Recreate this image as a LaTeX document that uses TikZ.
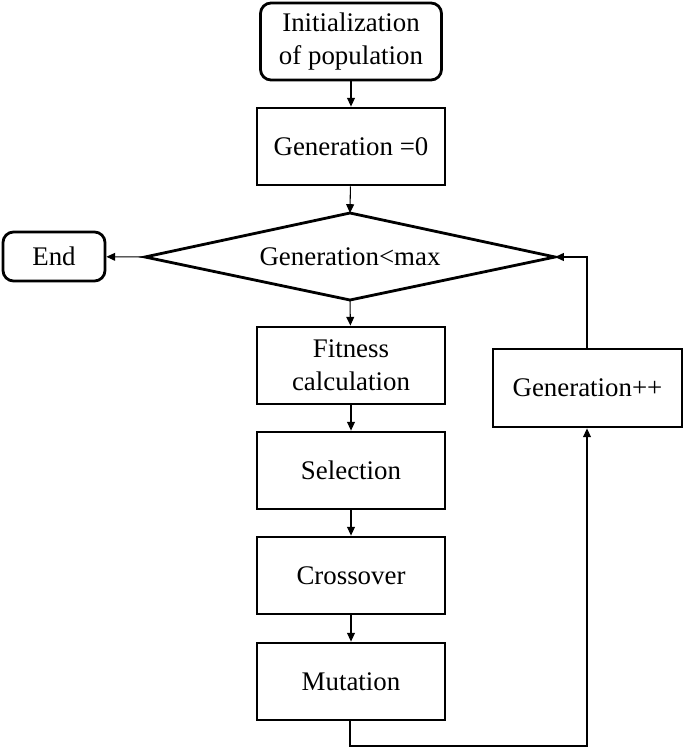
\documentclass[tikz,border=0pt]{standalone}
\usepackage{fontspec}
\setmainfont{Liberation Serif}
\usetikzlibrary{arrows.meta}
\begin{document}
\begin{tikzpicture}[x=0.02cm,y=-0.02cm,
  box/.style={draw,line width=1.6pt,minimum width=188*0.02cm,minimum height=77*0.02cm,align=center,font=\fontsize{15.3}{19}\selectfont,inner sep=0pt},
  rbox/.style={box,rounded corners=6pt},
  conn/.style={line width=0.6pt,-{Triangle[length=5pt,width=4.5pt]}}]
\useasboundingbox (0,0) rectangle (685,750);
\node[rbox,minimum width=181*0.02cm] (init) at (351,41.5) {Initialization\\of population};
\node[box] (g0) at (351,146.5) {Generation =0};
\draw[line width=1.6pt,line join=miter] (145,257) -- (350,213) -- (555,257) -- (350,300) -- cycle;
\coordinate (dl) at (145,257);
\coordinate (dr) at (555,257);
\coordinate (dt) at (350,213);
\coordinate (db) at (350,300);
\node[font=\fontsize{15.3}{19}\selectfont] (dtext) at (350,257) {Generation<max};
\node[rbox,minimum width=102*0.02cm,minimum height=49*0.02cm] (end) at (54,256.5) {End};
\node[box] (fit) at (351,365.5) {Fitness\\calculation};
\node[box] (sel) at (351,470.5) {Selection};
\node[box] (cro) at (351,575.5) {Crossover};
\node[box] (mut) at (351,681.5) {Mutation};
\node[box,minimum width=189*0.02cm,minimum height=78*0.02cm] (gpp) at (587.5,388) {Generation++};
\coordinate (c1) at (350,746);
\coordinate (c2) at (587,746);
\coordinate (c3) at (587,257);
\draw[conn] (init) -- (g0);
\draw[conn] (g0) -- (dt);
\draw[conn] (dl) -- (end);
\draw[conn] (db) -- (fit);
\draw[conn] (fit) -- (sel);
\draw[conn] (sel) -- (cro);
\draw[conn] (cro) -- (mut);
\draw[conn] (mut.south -| c1) -- (c1) -- (c2) -- (gpp.south -| c2);
\draw[conn] (gpp.north -| c3) -- (c3) -- (dr);
\end{tikzpicture}
\end{document}
